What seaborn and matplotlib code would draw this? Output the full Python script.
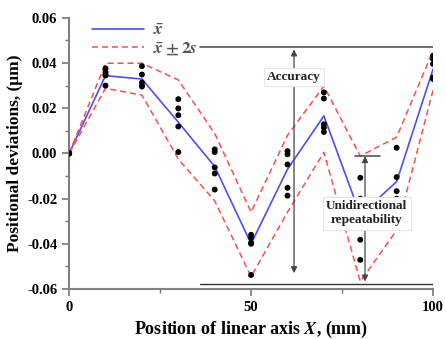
import numpy as np
import matplotlib
matplotlib.use("Agg")
import matplotlib.pyplot as plt
import seaborn as sns
import pandas as pd

# positions along the axis (mm)
positions = [0, 10, 20, 30, 40, 50, 60, 70, 80, 90, 100]

# mean deviation and +/- 2s band
mean_dev = [0, 0.0344, 0.0329, 0.0138, -0.0058, -0.0400, -0.0070, 0.0166, -0.0272, -0.0125, 0.0373]
upper_dev = [0, 0.0399, 0.0399, 0.0325, 0.0088, -0.0260, 0.0080, 0.0298, -0.0012, 0.0072, 0.0455]
lower_dev = [0, 0.0288, 0.0258, -0.0025, -0.0210, -0.0545, -0.0260, 0.0005, -0.0567, -0.0340, 0.0280]

# individual measured runs at each position
runs_0 = [0, 0, 0, 0, 0]
runs_10 = [0.0376, 0.0359, 0.0347, 0.0345, 0.0300]
runs_20 = [0.0386, 0.0349, 0.0314, 0.0300, 0.0296]
runs_30 = [0.0240, 0.0199, 0.0169, 0.0119, 0.0006]
runs_40 = [0.0018, 0.0006, -0.0062, -0.0089, -0.0160]
runs_50 = [-0.0360, -0.0373, -0.0396, -0.0400, -0.0538]
runs_60 = [0.0010, -0.0004, -0.0049, -0.0152, -0.0187]
runs_70 = [0.0270, 0.0243, 0.0129, 0.0114, 0.0095]
runs_80 = [-0.0108, -0.0200, -0.0215, -0.0382, -0.0471]
runs_90 = [0.0025, -0.0105, -0.0167, -0.0200, -0.0220]
runs_100 = [0.0432, 0.0418, 0.0396, 0.0336, 0.0329]

all_runs = [runs_0, runs_10, runs_20, runs_30, runs_40, runs_50,
            runs_60, runs_70, runs_80, runs_90, runs_100]

accuracy_top = 0.047
accuracy_bottom = -0.058
repeat_top = -0.0012
repeat_bottom = -0.0567

sns.set_style("ticks")
plt.rcParams['font.family'] = ['Liberation Serif', 'DejaVu Serif']
plt.rcParams['mathtext.fontset'] = 'stix'
plt.rcParams['font.weight'] = 'bold'
plt.rcParams['text.color'] = 'black'
plt.rcParams['axes.labelcolor'] = 'black'

lines = pd.DataFrame({'x': positions, 'mean': mean_dev, 'upper': upper_dev, 'lower': lower_dev})
dots = pd.DataFrame({'x': np.repeat(positions, 5), 'y': np.concatenate(all_runs)})

fig = plt.figure(figsize=(4.46, 3.39), dpi=100)
ax = fig.add_axes([0.155, 0.1475, 0.816, 0.80])

sns.scatterplot(data=dots, x='x', y='y', color='black', s=18, edgecolor='none', ax=ax, zorder=3)
sns.lineplot(data=lines, x='x', y='mean', color='#4d4dff', lw=1.2, ax=ax, label=r'$\bar{x}$', zorder=2)
sns.lineplot(data=lines, x='x', y='upper', color='#ff4d4d', lw=1.1, ls=(0, (4, 2.5)), ax=ax,
             label=r'$\bar{x}\pm 2s$', zorder=2)
sns.lineplot(data=lines, x='x', y='lower', color='#ff4d4d', lw=1.1, ls=(0, (4, 2.5)), ax=ax, zorder=2)

# accuracy band lines
ax.plot([36, 100], [accuracy_top, accuracy_top], color='#555555', lw=1.2, zorder=4)
ax.plot([36, 100], [accuracy_bottom, accuracy_bottom], color='#333333', lw=1.0, zorder=4)
ax.annotate('', xy=(61.8, accuracy_top - 0.001), xytext=(61.8, accuracy_bottom + 0.005),
            arrowprops=dict(arrowstyle='<|-|>', color='#444444', lw=0.9,
                            mutation_scale=9, shrinkA=0, shrinkB=0), zorder=4)
ax.text(61.8, 0.0338, 'Accuracy', ha='center', va='center', fontsize=9.5, fontweight='bold',
        color='#222222', zorder=6,
        bbox=dict(facecolor='white', edgecolor='#e6e6e6', pad=2.5, lw=0.8))

# repeatability
ax.plot([78.6, 85.4], [repeat_top, repeat_top], color='#555555', lw=1.2, zorder=4)
ax.annotate('', xy=(81.3, repeat_top), xytext=(81.3, repeat_bottom),
            arrowprops=dict(arrowstyle='<|-|>', color='#444444', lw=0.9,
                            mutation_scale=9, shrinkA=0, shrinkB=0), zorder=4)
ax.text(81.8, -0.0264, 'Unidirectional\nrepeatability', ha='center', va='center',
        fontsize=9.5, fontweight='bold', color='#222222', zorder=6, linespacing=1.25,
        bbox=dict(facecolor='white', edgecolor='#e6e6e6', pad=2.5, lw=0.8))

ax.set_xlim(0, 100)
ax.set_ylim(-0.06, 0.06)
ax.set_xticks([0, 50, 100])
ax.set_xticks([25, 75], minor=True)
ax.set_yticks(np.arange(-0.06, 0.061, 0.02))
ax.set_yticks(np.arange(-0.05, 0.06, 0.02), minor=True)
ax.set_yticklabels(['-0.06', '-0.04', '-0.02', '0.00', '0.02', '0.04', '0.06'])
ax.tick_params(axis='both', which='major', labelsize=10.5, length=5, width=1.2,
               color='#777777', labelcolor='black')
ax.tick_params(axis='both', which='minor', length=3, width=1.0, color='#777777')
for lab in ax.get_xticklabels() + ax.get_yticklabels():
    lab.set_fontweight('bold')

for side in ['left', 'bottom']:
    ax.spines[side].set_color('#808080')
    ax.spines[side].set_linewidth(1.5)
sns.despine(ax=ax)

ax.set_xlabel('Position of linear axis $\\mathbf{\\mathit{X}}$, (mm)', fontsize=13, fontweight='bold', labelpad=4)
ax.set_ylabel('Positional deviations, (\u03bcm)', fontsize=12.5, fontweight='bold', labelpad=3)

leg = ax.legend(loc='upper left', bbox_to_anchor=(0.02, 1.04), frameon=False, fontsize=12.5,
                handlelength=3.0, handletextpad=0.5, labelspacing=0.1)
for t in leg.get_texts():
    t.set_color('#555555')

fig.savefig('out.png', dpi=100)
